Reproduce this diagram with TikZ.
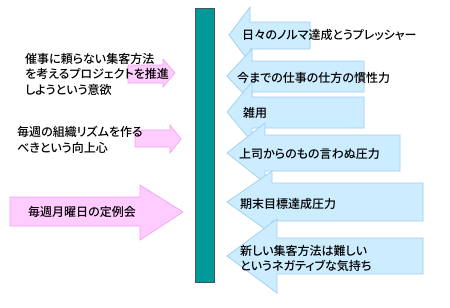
\documentclass[tikz,border=0pt]{standalone}
\usepackage{fontspec}
\newfontfamily\jp[RawFeature=+palt]{Noto Sans CJK JP Medium}
\definecolor{tealbar}{RGB}{0,153,153}
\definecolor{tealedge}{RGB}{60,90,90}
\definecolor{bluefill}{RGB}{204,236,255}
\definecolor{blueedge}{RGB}{160,205,240}
\definecolor{pinkfill}{RGB}{255,204,255}
\definecolor{pinkedge}{RGB}{245,160,245}
\begin{document}
\begin{tikzpicture}[x=1pt,y=-1pt]
\tikzset{
  barbox/.style={fill=tealbar,draw=tealedge,line width=0.8pt},
  bluearrow/.style={fill=bluefill,draw=blueedge,line width=0.7pt,line join=miter},
  pinkarrow/.style={fill=pinkfill,draw=pinkedge,line width=0.7pt,line join=miter},
  lbl/.style={inner sep=0pt,anchor=west,align=left,font=\jp\fontsize{12}{15.5}\selectfont}
}
\useasboundingbox (0,0) rectangle (450,308);
% central bar
\node[barbox,minimum width=19pt,minimum height=274pt,inner sep=0pt,anchor=north west] (bar) at (195,8) {};
% pink arrows (right pointing)
\draw[pinkarrow] (128,65) -- (163,65) -- (163,59) -- (175,73) -- (163,87) -- (163,83) -- (128,83) -- cycle;
\draw[pinkarrow] (135,130) -- (170,130) -- (170,125) -- (181,139) -- (170,153) -- (170,147) -- (135,147) -- cycle;
\draw[pinkarrow] (10,197) -- (140,197) -- (140,185) -- (183,212) -- (140,240) -- (140,226) -- (10,226) -- cycle;
% blue arrows (left pointing)
\draw[bluearrow] (229,35) -- (250,7) -- (250,22) -- (310,22) -- (310,49) -- (250,49) -- (250,63) -- cycle;
\draw[bluearrow] (227,76) -- (252,49) -- (252,61) -- (364,61) -- (364,92) -- (252,92) -- (252,103) -- cycle;
\draw[bluearrow] (227,112) -- (252,82) -- (252,97) -- (364,97) -- (364,128) -- (252,128) -- (252,142) -- cycle;
\draw[bluearrow] (227,153) -- (265,123) -- (265,135) -- (400,135) -- (400,171) -- (265,171) -- (265,183) -- cycle;
\draw[bluearrow] (227,202) -- (272,171) -- (272,183) -- (423,183) -- (423,221) -- (272,221) -- (272,234) -- cycle;
\draw[bluearrow] (227,256) -- (277,219) -- (277,238) -- (423,238) -- (423,274) -- (277,274) -- (277,293) -- cycle;
% left labels
\node[lbl] (t1) at (25,74) {催事に頼らない集客方法\\を考えるプロジェクトを推進\\しようという意欲};
\node[lbl] (t2) at (17,140) {毎週の組織リズムを作る\\べきという向上心};
\node[lbl] (t3) at (28,212) {毎週月曜日の定例会};
% right labels
\node[lbl] (r1) at (242,35) {日々のノルマ達成とうプレッシャー};
\node[lbl] (r2) at (237,78) {今までの仕事の仕方の慣性力};
\node[lbl] (r3) at (243,113) {雑用};
\node[lbl] (r4) at (239,154) {上司からのもの言わぬ圧力};
\node[lbl] (r5) at (240,204) {期末目標達成圧力};
\node[lbl] (r6) at (240,258.5) {新しい集客方法は難しい\\というネガティブな気持ち};
\end{tikzpicture}
\end{document}
